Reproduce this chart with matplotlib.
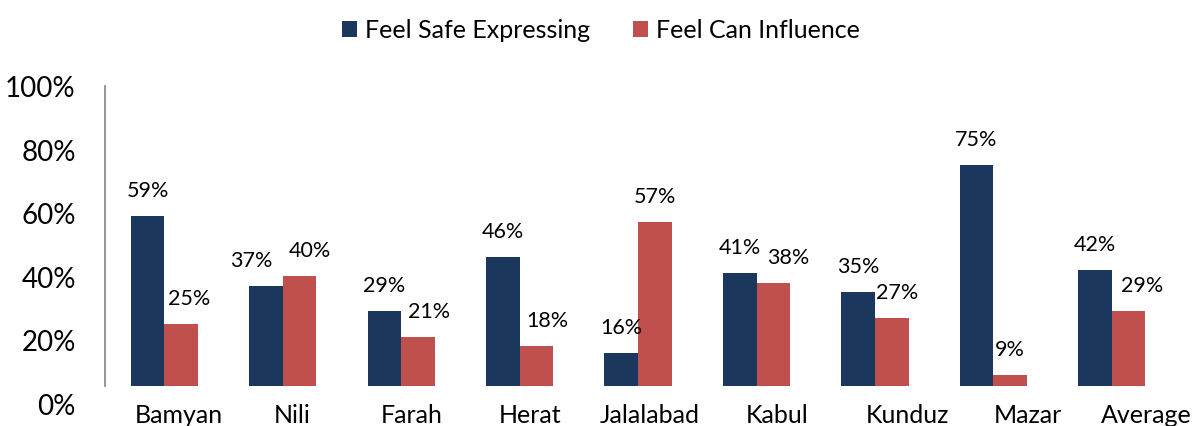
import numpy as np
import matplotlib
matplotlib.use("Agg")
import matplotlib.pyplot as plt
from matplotlib.ticker import PercentFormatter

plt.rcParams['font.family'] = ['Lato', 'DejaVu Sans']

# data
cities = ["Bamyan", "Nili", "Farah", "Herat", "Jalalabad", "Kabul", "Kunduz", "Mazar", "Average"]
safe = [0.59, 0.37, 0.29, 0.46, 0.16, 0.41, 0.35, 0.75, 0.42]
influence = [0.25, 0.40, 0.21, 0.18, 0.57, 0.38, 0.27, 0.09, 0.29]

navy = "#1B375E"
red = "#C0504D"

W, H = 1195, 427
fig = plt.figure(figsize=(W / 100, H / 100), dpi=100)

# pixel geometry of the plot area (left, right, y of 0%, y of 100%, visible floor)
x0, x1 = 105.2, 1171.0
y_zero, y_full, y_floor = 404.5, 86.5, 386.7
vmin = (y_zero - y_floor) / (y_zero - y_full)

ax = fig.add_axes([x0 / W, 1 - y_floor / H, (x1 - x0) / W, (y_floor - y_full) / H])
lab = fig.add_axes([x0 / W, 1 - y_zero / H, (x1 - x0) / W, (y_zero - y_full) / H], zorder=-1)

x = np.arange(len(cities))
w = 0.284
b1 = ax.bar(x - w / 2, safe, w, color=navy, label="Feel Safe Expressing")
b2 = ax.bar(x + w / 2, influence, w, color=red, label="Feel Can Influence")
ax.set_xlim(-0.5, len(cities) - 0.5)
ax.set_ylim(vmin, 1.0)

for s in ["top", "right", "bottom"]:
    ax.spines[s].set_visible(False)
ax.spines["left"].set_color("#8c8c8c")
ax.spines["left"].set_linewidth(1.3)
ax.set_xticks([])
ax.set_yticks([])

# value labels, with the small sideways nudges of the original (pixels)
safe_nudge = [0, -15, 0, 0, 0, 0, 0, 0, 0]
infl_nudge = [8, 10, 11, 11, 0, 15, 5, 0, 14]
for rect, v, n in zip(b1, safe, safe_nudge):
    ax.annotate(f"{v:.0%}", (rect.get_x() + rect.get_width() / 2, v),
                xytext=(n * 0.72, 14.4), textcoords="offset points",
                ha="center", va="baseline", fontsize=15.5)
for rect, v, n in zip(b2, influence, infl_nudge):
    ax.annotate(f"{v:.0%}", (rect.get_x() + rect.get_width() / 2, v),
                xytext=(n * 0.72, 14.4), textcoords="offset points",
                ha="center", va="baseline", fontsize=15.5)

# category labels (nudged right as in the original)
nudge_px = [14, 9, 10, 10, 12, 21, 32, 35, 35]
for i, (c, n) in enumerate(zip(cities, nudge_px)):
    ax.annotate(c, (i, 0), xycoords=("data", "axes fraction"),
                xytext=(n * 0.72, -26), textcoords="offset points",
                ha="center", va="baseline", fontsize=18)

# y tick labels on their own axis, 0% sits below the visible floor
lab.set_ylim(0, 1)
lab.set_xlim(0, 1)
lab.set_yticks(np.linspace(0, 1, 6))
lab.yaxis.set_major_formatter(PercentFormatter(1.0, decimals=0))
lab.tick_params(axis="y", length=0, pad=28 * 0.72 + 1, labelsize=20)
lab.set_xticks([])
for s in lab.spines.values():
    s.set_visible(False)
lab.patch.set_visible(False)

fig.legend(handles=[b1, b2], loc="center", bbox_to_anchor=(601 / W, 1 - 31 / H),
           ncol=2, frameon=False, fontsize=18, handlelength=0.6, handleheight=0.6,
           handletextpad=0.32, columnspacing=1.7)

fig.savefig("out.png", dpi=100)
